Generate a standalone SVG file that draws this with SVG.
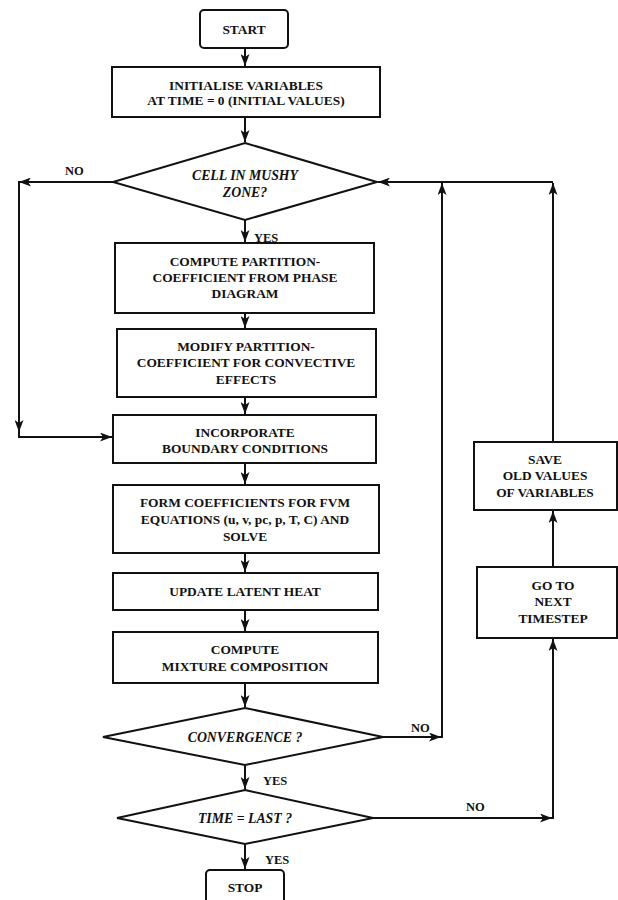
<svg xmlns="http://www.w3.org/2000/svg" width="618" height="900" viewBox="0 0 618 900">
<style>
.box{fill:#fff;stroke:#111;stroke-width:2}
.t{font-family:"Liberation Serif","Times New Roman",serif;font-weight:bold;font-size:13.4px;fill:#111;text-anchor:middle}
.i{font-style:italic;font-size:13.8px}
.lbl{font-family:"Liberation Serif","Times New Roman",serif;font-weight:bold;font-size:12.5px;fill:#111}
.c{fill:none;stroke:#111;stroke-width:2}
</style>
<defs>
<marker id="ah" markerWidth="13" markerHeight="9" refX="12" refY="4.5" orient="auto" markerUnits="userSpaceOnUse">
<path d="M0,0 L12,4.5 L0,9 L3,4.5 Z" fill="#111"/>
</marker>
</defs>
<rect width="618" height="900" fill="#fff"/>
<g id="connectors">
<line class="c" x1="245" y1="48" x2="245" y2="66" marker-end="url(#ah)"/>
<line class="c" x1="245" y1="117" x2="245" y2="142" marker-end="url(#ah)"/>
<line class="c" x1="245" y1="220" x2="245" y2="242" marker-end="url(#ah)"/>
<line class="c" x1="245" y1="313" x2="245" y2="328" marker-end="url(#ah)"/>
<line class="c" x1="245" y1="397" x2="245" y2="414" marker-end="url(#ah)"/>
<line class="c" x1="245" y1="463" x2="245" y2="484" marker-end="url(#ah)"/>
<line class="c" x1="245" y1="553" x2="245" y2="572" marker-end="url(#ah)"/>
<line class="c" x1="245" y1="610" x2="245" y2="631" marker-end="url(#ah)"/>
<line class="c" x1="245" y1="683" x2="245" y2="707" marker-end="url(#ah)"/>
<line class="c" x1="245" y1="765" x2="245" y2="789" marker-end="url(#ah)"/>
<line class="c" x1="245" y1="844" x2="245" y2="869" marker-end="url(#ah)"/>
<line class="c" x1="113" y1="182" x2="19" y2="182" marker-end="url(#ah)"/>
<line class="c" x1="19" y1="181" x2="19" y2="432" marker-end="url(#ah)"/>
<path class="c" d="M19,430 V437 H112" marker-end="url(#ah)"/>
<path class="c" d="M383,737 H441" marker-end="url(#ah)"/>
<line class="c" x1="442" y1="738" x2="442" y2="183" marker-end="url(#ah)"/>
<line class="c" x1="553" y1="182" x2="378" y2="182" marker-end="url(#ah)"/>
<line class="c" x1="373" y1="818" x2="552" y2="818" marker-end="url(#ah)"/>
<line class="c" x1="553" y1="819" x2="553" y2="639" marker-end="url(#ah)"/>
<line class="c" x1="553" y1="567" x2="553" y2="511" marker-end="url(#ah)"/>
<line class="c" x1="553" y1="442" x2="553" y2="183" marker-end="url(#ah)"/>
<text class="lbl" x="65" y="175">NO</text>
<text class="lbl" x="254" y="242">YES</text>
<text class="lbl" x="411" y="732">NO</text>
<text class="lbl" x="263" y="785">YES</text>
<text class="lbl" x="466" y="811">NO</text>
<text class="lbl" x="265" y="864">YES</text>
</g>
<g id="start">
<rect class="box" x="200" y="10" width="88" height="38" rx="4"/>
<text class="t" x="244" y="34">START</text>
</g>
<g id="init">
<rect class="box" x="112" y="67" width="268" height="50"/>
<text class="t" x="246" y="90">INITIALISE VARIABLES</text>
<text class="t" x="246" y="105">AT TIME = 0 (INITIAL VALUES)</text>
</g>
<g id="mushy">
<polygon class="box" points="245,143 377,182 245,220 113,182"/>
<text class="t i" x="245" y="180">CELL IN MUSHY</text>
<text class="t i" x="245" y="197">ZONE?</text>
</g>
<g id="partition">
<rect class="box" x="115" y="243" width="259" height="70"/>
<text class="t" x="245" y="266">COMPUTE PARTITION-</text>
<text class="t" x="245" y="282">COEFFICIENT FROM PHASE</text>
<text class="t" x="245" y="298">DIAGRAM</text>
</g>
<g id="modify">
<rect class="box" x="117" y="329" width="259" height="68"/>
<text class="t" x="246" y="351">MODIFY PARTITION-</text>
<text class="t" x="246" y="367">COEFFICIENT FOR CONVECTIVE</text>
<text class="t" x="246" y="384">EFFECTS</text>
</g>
<g id="boundary">
<rect class="box" x="113" y="415" width="263" height="48"/>
<text class="t" x="245" y="437">INCORPORATE</text>
<text class="t" x="245" y="453">BOUNDARY CONDITIONS</text>
</g>
<g id="fvm">
<rect class="box" x="113" y="485" width="266" height="68"/>
<text class="t" x="245" y="507">FORM COEFFICIENTS FOR FVM</text>
<text class="t" x="245" y="524">EQUATIONS (u, v, pc, p, T, C) AND</text>
<text class="t" x="245" y="541">SOLVE</text>
</g>
<g id="latent">
<rect class="box" x="113" y="573" width="265" height="37"/>
<text class="t" x="245" y="596">UPDATE LATENT HEAT</text>
</g>
<g id="mixture">
<rect class="box" x="113" y="632" width="265" height="51"/>
<text class="t" x="245" y="654">COMPUTE</text>
<text class="t" x="245" y="671">MIXTURE COMPOSITION</text>
</g>
<g id="convergence">
<polygon class="box" points="245,708 383,737 245,765 103,737"/>
<text class="t i" x="245" y="742">CONVERGENCE ?</text>
</g>
<g id="timelast">
<polygon class="box" points="245,790 373,818 245,844 117,818"/>
<text class="t i" x="245" y="823">TIME = LAST ?</text>
</g>
<g id="stop">
<rect class="box" x="206" y="870" width="78" height="40" rx="4"/>
<text class="t" x="245" y="892">STOP</text>
</g>
<g id="save">
<rect class="box" x="474" y="442" width="143" height="68"/>
<text class="t" x="545" y="464">SAVE</text>
<text class="t" x="545" y="480">OLD VALUES</text>
<text class="t" x="545" y="497">OF VARIABLES</text>
</g>
<g id="nexttime">
<rect class="box" x="477" y="567" width="140" height="71"/>
<text class="t" x="553" y="590">GO TO</text>
<text class="t" x="553" y="606">NEXT</text>
<text class="t" x="553" y="623">TIMESTEP</text>
</g>
</svg>
